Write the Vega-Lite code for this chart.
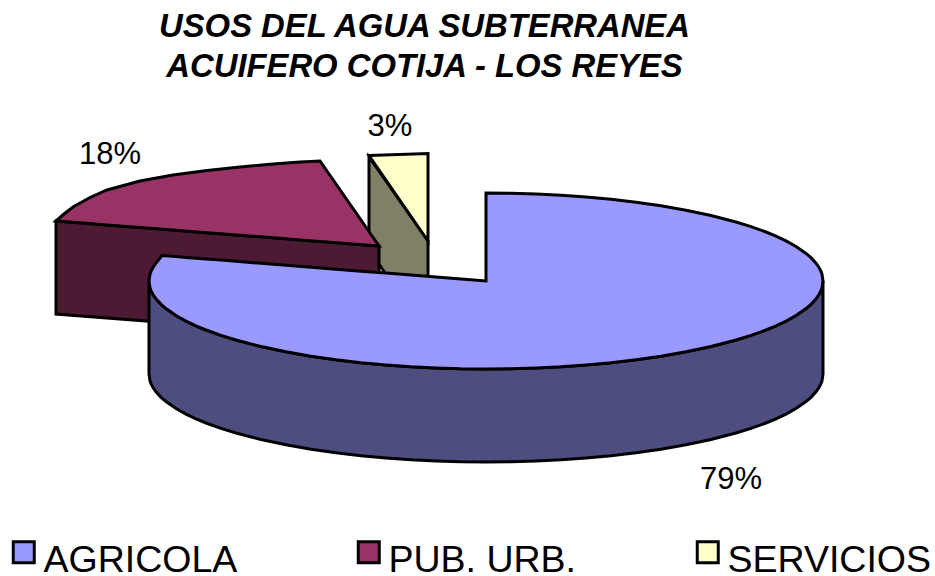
{
"$schema":"https://vega.github.io/schema/vega-lite/v6.json",
"width":935,"height":576,"padding":0,"autosize":{"type":"none"},
"background":"white",
"view":{"stroke":null},
"config":{"font":"Liberation Sans"},
"title":{"text":["USOS DEL AGUA SUBTERRANEA","ACUIFERO COTIJA - LOS REYES"],"font":"Liberation Sans","fontSize":32.8,"fontWeight":"bold","fontStyle":"italic","color":"black","anchor":"middle","frame":"group","lineHeight":40,"baseline":"top","offset":-84,"dx":-43},
"datasets":{
"formas":[
{"parte":"Pared SERVICIOS","x":369,"y":157,"y2":250},
{"parte":"Pared SERVICIOS","x":428,"y":241,"y2":334},
{"parte":"SERVICIOS","x":369,"y":155.5,"y2":155.5},
{"parte":"SERVICIOS","x":428,"y":153.5,"y2":241},
{"parte":"Pared PUB. URB.","x":56,"y":221,"y2":314},
{"parte":"Pared PUB. URB.","x":379,"y":246,"y2":339},
{"parte":"PUB. URB.","x":56,"y":221,"y2":221},
{"parte":"PUB. URB.","x":64,"y":214,"y2":221.6},
{"parte":"PUB. URB.","x":73,"y":207,"y2":222.3},
{"parte":"PUB. URB.","x":90,"y":197.5,"y2":223.6},
{"parte":"PUB. URB.","x":107,"y":190,"y2":224.9},
{"parte":"PUB. URB.","x":140,"y":181,"y2":227.5},
{"parte":"PUB. URB.","x":173,"y":175,"y2":230},
{"parte":"PUB. URB.","x":207,"y":170.5,"y2":232.7},
{"parte":"PUB. URB.","x":240,"y":167,"y2":235.2},
{"parte":"PUB. URB.","x":270,"y":164.2,"y2":237.6},
{"parte":"PUB. URB.","x":300,"y":162,"y2":239.9},
{"parte":"PUB. URB.","x":320,"y":161,"y2":241.4},
{"parte":"PUB. URB.","x":379,"y":246,"y2":246},
{"parte":"Pared AGRICOLA","x":149,"y":281,"y2":374},
{"parte":"Pared AGRICOLA","x":150,"y":287.8,"y2":380.8},
{"parte":"Pared AGRICOLA","x":151,"y":290.6,"y2":383.6},
{"parte":"Pared AGRICOLA","x":153,"y":294.5,"y2":387.5},
{"parte":"Pared AGRICOLA","x":156,"y":298.8,"y2":391.8},
{"parte":"Pared AGRICOLA","x":161,"y":304.3,"y2":397.3},
{"parte":"Pared AGRICOLA","x":166,"y":308.6,"y2":401.6},
{"parte":"Pared AGRICOLA","x":176,"y":315.5,"y2":408.5},
{"parte":"Pared AGRICOLA","x":186,"y":321.1,"y2":414.1},
{"parte":"Pared AGRICOLA","x":196,"y":325.8,"y2":418.8},
{"parte":"Pared AGRICOLA","x":206,"y":330,"y2":423},
{"parte":"Pared AGRICOLA","x":221,"y":335.4,"y2":428.4},
{"parte":"Pared AGRICOLA","x":236,"y":340,"y2":433},
{"parte":"Pared AGRICOLA","x":261,"y":346.5,"y2":439.5},
{"parte":"Pared AGRICOLA","x":286,"y":351.8,"y2":444.8},
{"parte":"Pared AGRICOLA","x":311,"y":356.2,"y2":449.2},
{"parte":"Pared AGRICOLA","x":336,"y":359.8,"y2":452.8},
{"parte":"Pared AGRICOLA","x":361,"y":362.7,"y2":455.7},
{"parte":"Pared AGRICOLA","x":386,"y":365,"y2":458},
{"parte":"Pared AGRICOLA","x":411,"y":366.8,"y2":459.8},
{"parte":"Pared AGRICOLA","x":436,"y":368,"y2":461},
{"parte":"Pared AGRICOLA","x":461,"y":368.8,"y2":461.8},
{"parte":"Pared AGRICOLA","x":486,"y":369,"y2":462},
{"parte":"Pared AGRICOLA","x":511,"y":368.8,"y2":461.8},
{"parte":"Pared AGRICOLA","x":536,"y":368,"y2":461},
{"parte":"Pared AGRICOLA","x":561,"y":366.8,"y2":459.8},
{"parte":"Pared AGRICOLA","x":586,"y":365,"y2":458},
{"parte":"Pared AGRICOLA","x":611,"y":362.7,"y2":455.7},
{"parte":"Pared AGRICOLA","x":636,"y":359.8,"y2":452.8},
{"parte":"Pared AGRICOLA","x":661,"y":356.2,"y2":449.2},
{"parte":"Pared AGRICOLA","x":686,"y":351.8,"y2":444.8},
{"parte":"Pared AGRICOLA","x":711,"y":346.5,"y2":439.5},
{"parte":"Pared AGRICOLA","x":736,"y":340,"y2":433},
{"parte":"Pared AGRICOLA","x":751,"y":335.4,"y2":428.4},
{"parte":"Pared AGRICOLA","x":766,"y":330,"y2":423},
{"parte":"Pared AGRICOLA","x":776,"y":325.8,"y2":418.8},
{"parte":"Pared AGRICOLA","x":786,"y":321.1,"y2":414.1},
{"parte":"Pared AGRICOLA","x":796,"y":315.5,"y2":408.5},
{"parte":"Pared AGRICOLA","x":806,"y":308.6,"y2":401.6},
{"parte":"Pared AGRICOLA","x":811,"y":304.3,"y2":397.3},
{"parte":"Pared AGRICOLA","x":816,"y":298.8,"y2":391.8},
{"parte":"Pared AGRICOLA","x":819,"y":294.5,"y2":387.5},
{"parte":"Pared AGRICOLA","x":821,"y":290.6,"y2":383.6},
{"parte":"Pared AGRICOLA","x":822,"y":287.8,"y2":380.8},
{"parte":"Pared AGRICOLA","x":823,"y":281,"y2":374},
{"parte":"AGRICOLA","x":149,"y":281,"y2":281},
{"parte":"AGRICOLA","x":150,"y":274.2,"y2":287.8},
{"parte":"AGRICOLA","x":151,"y":271.4,"y2":290.6},
{"parte":"AGRICOLA","x":153,"y":267.5,"y2":294.5},
{"parte":"AGRICOLA","x":156,"y":263.2,"y2":298.8},
{"parte":"AGRICOLA","x":162,"y":255.5,"y2":305.2},
{"parte":"AGRICOLA","x":166,"y":255.8,"y2":308.6},
{"parte":"AGRICOLA","x":176,"y":256.6,"y2":315.5},
{"parte":"AGRICOLA","x":186,"y":257.4,"y2":321.1},
{"parte":"AGRICOLA","x":196,"y":258.2,"y2":325.8},
{"parte":"AGRICOLA","x":206,"y":259,"y2":330},
{"parte":"AGRICOLA","x":221,"y":260.1,"y2":335.4},
{"parte":"AGRICOLA","x":236,"y":261.3,"y2":340},
{"parte":"AGRICOLA","x":261,"y":263.3,"y2":346.5},
{"parte":"AGRICOLA","x":286,"y":265.3,"y2":351.8},
{"parte":"AGRICOLA","x":311,"y":267.2,"y2":356.2},
{"parte":"AGRICOLA","x":336,"y":269.2,"y2":359.8},
{"parte":"AGRICOLA","x":361,"y":271.2,"y2":362.7},
{"parte":"AGRICOLA","x":386,"y":273.1,"y2":365},
{"parte":"AGRICOLA","x":411,"y":275.1,"y2":366.8},
{"parte":"AGRICOLA","x":436,"y":277.1,"y2":368},
{"parte":"AGRICOLA","x":461,"y":279,"y2":368.8},
{"parte":"AGRICOLA","x":486,"y":281,"y2":369},
{"parte":"AGRICOLA","x":486,"y":193,"y2":369},
{"parte":"AGRICOLA","x":511,"y":193.2,"y2":368.8},
{"parte":"AGRICOLA","x":536,"y":194,"y2":368},
{"parte":"AGRICOLA","x":561,"y":195.2,"y2":366.8},
{"parte":"AGRICOLA","x":586,"y":197,"y2":365},
{"parte":"AGRICOLA","x":611,"y":199.3,"y2":362.7},
{"parte":"AGRICOLA","x":636,"y":202.2,"y2":359.8},
{"parte":"AGRICOLA","x":661,"y":205.8,"y2":356.2},
{"parte":"AGRICOLA","x":686,"y":210.2,"y2":351.8},
{"parte":"AGRICOLA","x":711,"y":215.5,"y2":346.5},
{"parte":"AGRICOLA","x":736,"y":222,"y2":340},
{"parte":"AGRICOLA","x":751,"y":226.6,"y2":335.4},
{"parte":"AGRICOLA","x":766,"y":232,"y2":330},
{"parte":"AGRICOLA","x":776,"y":236.2,"y2":325.8},
{"parte":"AGRICOLA","x":786,"y":240.9,"y2":321.1},
{"parte":"AGRICOLA","x":796,"y":246.5,"y2":315.5},
{"parte":"AGRICOLA","x":806,"y":253.4,"y2":308.6},
{"parte":"AGRICOLA","x":811,"y":257.7,"y2":304.3},
{"parte":"AGRICOLA","x":816,"y":263.2,"y2":298.8},
{"parte":"AGRICOLA","x":819,"y":267.5,"y2":294.5},
{"parte":"AGRICOLA","x":821,"y":271.4,"y2":290.6},
{"parte":"AGRICOLA","x":822,"y":274.2,"y2":287.8},
{"parte":"AGRICOLA","x":823,"y":281,"y2":281}
],
"porcentajes":[
{"uso":"AGRICOLA","pct":0.79,"x":731,"y":480},
{"uso":"PUB. URB.","pct":0.18,"x":110,"y":155},
{"uso":"SERVICIOS","pct":0.03,"x":390,"y":127}
]
},
"layer":[
{"data":{"name":"formas"},
"mark":{"type":"area","stroke":"black","strokeWidth":3,"opacity":1,"clip":false,"strokeJoin":"miter"},
"encoding":{
"x":{"field":"x","type":"quantitative","scale":{"domain":[0,935],"nice":false,"zero":false},"axis":null},
"y":{"field":"y","type":"quantitative","scale":{"domain":[576,0],"nice":false,"zero":false},"axis":null},
"y2":{"field":"y2"},
"color":{"field":"parte","type":"nominal","sort":null,
"scale":{"domain":["AGRICOLA","PUB. URB.","SERVICIOS","Pared AGRICOLA","Pared PUB. URB.","Pared SERVICIOS"],"range":["#9999FF","#993366","#FFFFCC","#4D4D80","#4D1A33","#808066"]},
"legend":{"values":["AGRICOLA","PUB. URB.","SERVICIOS"],"title":null,"orient":"none","legendX":5,"legendY":533,"direction":"horizontal","columns":3,"columnPadding":112,"padding":0,"symbolType":"square","symbolSize":441,"symbolStrokeColor":"black","symbolStrokeWidth":3,"symbolOpacity":1,"labelFont":"Liberation Sans","labelFontSize":37.5,"labelColor":"black","labelOffset":1,"labelLimit":400,"encode":{"labels":{"update":{"dy":{"value":9}}}}}}
}},
{"data":{"name":"porcentajes"},
"mark":{"type":"text","font":"Liberation Sans","fontSize":31,"color":"black","align":"center","baseline":"middle"},
"encoding":{
"x":{"field":"x","type":"quantitative"},
"y":{"field":"y","type":"quantitative"},
"text":{"field":"pct","type":"quantitative","format":".0%"}
}}
]
}
